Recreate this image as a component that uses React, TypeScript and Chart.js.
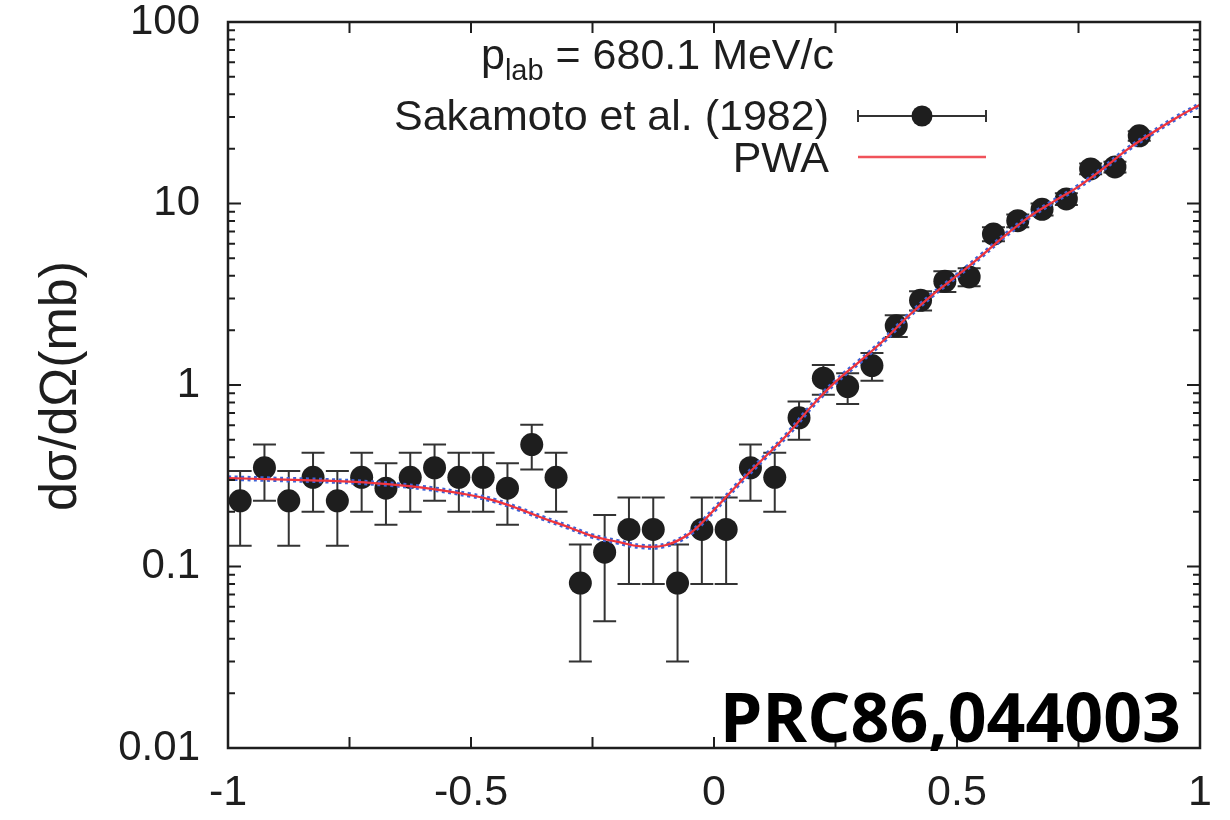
import React, { useEffect, useRef } from "react";
import { Chart, registerables } from "chart.js";

Chart.register(...registerables);

const xVals = [
  -0.975, -0.925, -0.875, -0.825, -0.775, -0.725, -0.675, -0.625, -0.575, -0.525,
  -0.475, -0.425, -0.375, -0.325, -0.275, -0.225, -0.175, -0.125, -0.075, -0.025,
  0.025, 0.075, 0.125, 0.175, 0.225, 0.275, 0.325, 0.375, 0.425, 0.475,
  0.525, 0.575, 0.625, 0.675, 0.725, 0.775, 0.825, 0.875,
];
const yVals = [
  0.23, 0.35, 0.23, 0.31, 0.23, 0.31, 0.27, 0.31, 0.35, 0.31,
  0.31, 0.27, 0.47, 0.31, 0.081, 0.12, 0.16, 0.16, 0.081, 0.16,
  0.16, 0.35, 0.31, 0.66, 1.09, 0.98, 1.28, 2.12, 2.93, 3.73,
  3.94, 6.79, 8.04, 9.29, 10.6, 15.5, 15.9, 23.6,
];
const errLow = [
  0.13, 0.23, 0.13, 0.2, 0.13, 0.2, 0.17, 0.2, 0.23, 0.2,
  0.2, 0.17, 0.342, 0.2, 0.03, 0.05, 0.08, 0.08, 0.03, 0.08,
  0.08, 0.23, 0.2, 0.5, 0.884, 0.786, 1.056, 1.84, 2.57, 3.25,
  3.5, 6.2, 7.4, 8.6, 9.8, 14.5, 14.8, 22.2,
];
const errHigh = [
  0.336, 0.47, 0.336, 0.424, 0.336, 0.424, 0.37, 0.424, 0.47, 0.424,
  0.424, 0.37, 0.604, 0.424, 0.132, 0.192, 0.24, 0.24, 0.132, 0.24,
  0.24, 0.47, 0.424, 0.81, 1.29, 1.16, 1.5, 2.42, 3.28, 4.23,
  4.4, 7.4, 8.7, 10.0, 11.4, 16.6, 17.0, 25.0,
];

const curveX = [
  -1, -0.9, -0.8, -0.7, -0.6, -0.5, -0.45, -0.4, -0.35, -0.3,
  -0.25, -0.2, -0.15, -0.1, -0.05, 0, 0.05, 0.1, 0.15, 0.2,
  0.25, 0.3, 0.35, 0.4, 0.45, 0.5, 0.55, 0.6, 0.65, 0.7,
  0.75, 0.8, 0.85, 0.9, 0.95, 1.0,
];
const curveY = [
  0.307, 0.302, 0.297, 0.288, 0.272, 0.247, 0.23, 0.207, 0.184, 0.165,
  0.147, 0.137, 0.129, 0.131, 0.152, 0.205, 0.285, 0.39, 0.53, 0.76,
  1.04, 1.35, 1.77, 2.4, 3.15, 4.0, 5.15, 6.7, 8.5, 10.3,
  12.4, 15.5, 19.8, 24.3, 29.5, 35,
];

const xTickVals = [-1, -0.5, 0, 0.5, 1];
const xTickLabels = ["-1", "-0.5", "0", "0.5", "1"];
const xMinorVals = [-0.75, -0.25, 0.25, 0.75];
const yTickVals = [0.01, 0.1, 1, 10, 100];
const yTickLabels = ["0.01", "0.1", "1", "10", "100"];

const yAxisTitle = "dσ/dΩ(mb)";
const headerMain = "p";
const headerSub = "lab";
const headerRest = " = 680.1 MeV/c";
const seriesLabel = "Sakamoto et al. (1982)";
const curveLabel = "PWA";
const stamp = "PRC86,044003";

const INK = "#1e1e1e";
const SANS = "'Liberation Sans', Arial, Helvetica, sans-serif";

const decorPlugin = {
  id: "decor",
  beforeDatasetsDraw(chart: any) {
    const ctx = chart.ctx;
    const xs = chart.scales.x;
    const ys = chart.scales.y;
    const area = chart.chartArea;
    ctx.save();
    ctx.beginPath();
    ctx.rect(area.left, area.top, area.right - area.left, area.bottom - area.top);
    ctx.clip();
    ctx.strokeStyle = "#333";
    ctx.lineWidth = 2;
    for (let i = 0; i < xVals.length; i++) {
      const px = xs.getPixelForValue(xVals[i]);
      const pl = ys.getPixelForValue(errLow[i]);
      const ph = ys.getPixelForValue(errHigh[i]);
      ctx.beginPath();
      ctx.moveTo(px, pl);
      ctx.lineTo(px, ph);
      ctx.moveTo(px - 11.5, pl);
      ctx.lineTo(px + 11.5, pl);
      ctx.moveTo(px - 11.5, ph);
      ctx.lineTo(px + 11.5, ph);
      ctx.stroke();
    }
    ctx.restore();
  },
  afterDraw(chart: any) {
    const ctx = chart.ctx;
    const xs = chart.scales.x;
    const ys = chart.scales.y;
    const { left, right, top, bottom } = chart.chartArea;
    ctx.save();
    ctx.strokeStyle = INK;
    ctx.lineWidth = 2.5;
    ctx.strokeRect(left, top, right - left, bottom - top);
    ctx.lineWidth = 2;
    ctx.beginPath();
    for (let d = -2; d <= 2; d++) {
      for (let m = 1; m <= 9; m++) {
        const v = m * Math.pow(10, d);
        if (v > 100.0001) continue;
        const py = ys.getPixelForValue(v);
        const len = m === 1 ? 13 : 7;
        ctx.moveTo(left, py);
        ctx.lineTo(left + len, py);
        ctx.moveTo(right, py);
        ctx.lineTo(right - len, py);
      }
    }
    const allX = xTickVals.concat(xMinorVals);
    for (const v of allX) {
      const px = xs.getPixelForValue(v);
      ctx.moveTo(px, bottom);
      ctx.lineTo(px, bottom - 11);
      ctx.moveTo(px, top);
      ctx.lineTo(px, top + 11);
    }
    ctx.stroke();

    // y-axis title
    ctx.fillStyle = INK;
    ctx.save();
    ctx.translate(62, 386);
    ctx.rotate(-Math.PI / 2);
    ctx.font = "52px " + SANS;
    ctx.textAlign = "center";
    ctx.textBaseline = "middle";
    ctx.fillText(yAxisTitle, 0, 0);
    ctx.restore();

    // header p_lab
    ctx.textBaseline = "alphabetic";
    ctx.textAlign = "left";
    const bigFont = "43px " + SANS;
    const subFont = "29px " + SANS;
    ctx.font = bigFont;
    const wP = ctx.measureText(headerMain).width;
    const wR = ctx.measureText(headerRest).width;
    ctx.font = subFont;
    const wS = ctx.measureText(headerSub).width;
    const hRight = 834;
    let hx = hRight - (wP + wS + wR);
    ctx.font = bigFont;
    ctx.fillText(headerMain, hx, 69);
    hx += wP;
    ctx.font = subFont;
    ctx.fillText(headerSub, hx, 80);
    hx += wS;
    ctx.font = bigFont;
    ctx.fillText(headerRest, hx, 69);

    // legend texts
    ctx.textAlign = "right";
    ctx.fillText(seriesLabel, 829, 130);
    ctx.fillText(curveLabel, 829, 172);

    // legend sample: error bar + point
    ctx.strokeStyle = "#333";
    ctx.lineWidth = 2;
    ctx.beginPath();
    ctx.moveTo(858, 116);
    ctx.lineTo(986, 116);
    ctx.moveTo(858, 110);
    ctx.lineTo(858, 122);
    ctx.moveTo(986, 110);
    ctx.lineTo(986, 122);
    ctx.stroke();
    ctx.fillStyle = INK;
    ctx.beginPath();
    ctx.arc(922, 116, 10.5, 0, Math.PI * 2);
    ctx.fill();
    ctx.strokeStyle = "#f0525a";
    ctx.lineWidth = 2.5;
    ctx.beginPath();
    ctx.moveTo(858, 157);
    ctx.lineTo(986, 157);
    ctx.stroke();

    // stamp
    ctx.fillStyle = "#000";
    ctx.font = "bold 68px 'Open Sans', 'DejaVu Sans', sans-serif";
    ctx.textAlign = "right";
    ctx.fillText(stamp, 1181, 742);
    ctx.restore();
  },
};

export default function App() {
  const canvasRef = useRef<HTMLCanvasElement | null>(null);

  useEffect(() => {
    document.body.style.margin = "0";
    const canvas = canvasRef.current;
    if (!canvas) return;
    const points = xVals.map((x, i) => ({ x, y: yVals[i] }));
    const curve = curveX.map((x, i) => ({ x, y: curveY[i] }));
    const chart = new Chart(canvas, {
      type: "scatter",
      data: {
        datasets: [
          {
            type: "line",
            label: curveLabel,
            data: curve,
            borderColor: "#f0343c",
            borderWidth: 2.2,
            pointRadius: 0,
            tension: 0.4,
            fill: false,
            order: 0,
          } as any,
          {
            type: "line",
            label: "PWA2",
            data: curve,
            borderColor: "#3d62d6",
            borderWidth: 5.5,
            borderDash: [3, 3.5],
            pointRadius: 0,
            tension: 0.4,
            fill: false,
            order: 1,
          } as any,
          {
            type: "scatter",
            label: seriesLabel,
            data: points,
            pointRadius: 11.5,
            pointHoverRadius: 11.5,
            backgroundColor: INK,
            borderWidth: 0,
            order: 2,
          } as any,
        ],
      },
      options: {
        animation: false,
        responsive: true,
        maintainAspectRatio: false,
        devicePixelRatio: 1,
        layout: { autoPadding: false, padding: { top: 22, right: 30, left: 0, bottom: 0 } },
        plugins: {
          legend: { display: false },
          tooltip: { enabled: false },
        },
        scales: {
          x: {
            type: "linear",
            min: -1,
            max: 1,
            grid: { display: false },
            border: { display: false },
            afterBuildTicks: (scale: any) => {
              scale.ticks = xTickVals.map((v) => ({ value: v }));
            },
            afterFit: (scale: any) => {
              scale.height = 72;
              scale.paddingLeft = 0;
              scale.paddingRight = 0;
            },
            ticks: {
              autoSkip: false,
              maxRotation: 0,
              minRotation: 0,
              padding: 11,
              color: INK,
              font: { family: SANS, size: 43 },
              callback: (_v: any, i: number) => xTickLabels[i],
            },
          },
          y: {
            type: "logarithmic",
            min: 0.01,
            max: 100,
            grid: { display: false },
            border: { display: false },
            afterBuildTicks: (scale: any) => {
              scale.ticks = yTickVals.map((v) => ({ value: v }));
            },
            afterFit: (scale: any) => {
              scale.width = 228;
              scale.paddingTop = 0;
              scale.paddingBottom = 0;
            },
            ticks: {
              autoSkip: false,
              padding: 20,
              color: INK,
              font: { family: SANS, size: 42, lineHeight: 1.0 },
              callback: (_v: any, i: number) => yTickLabels[i],
            },
          },
        },
      } as any,
      plugins: [decorPlugin],
    });
    return () => chart.destroy();
  }, []);

  return (
    <div style={{ position: "fixed", left: 0, top: 0, width: 1230, height: 820, background: "#fff" }}>
      <canvas ref={canvasRef} />
    </div>
  );
}
